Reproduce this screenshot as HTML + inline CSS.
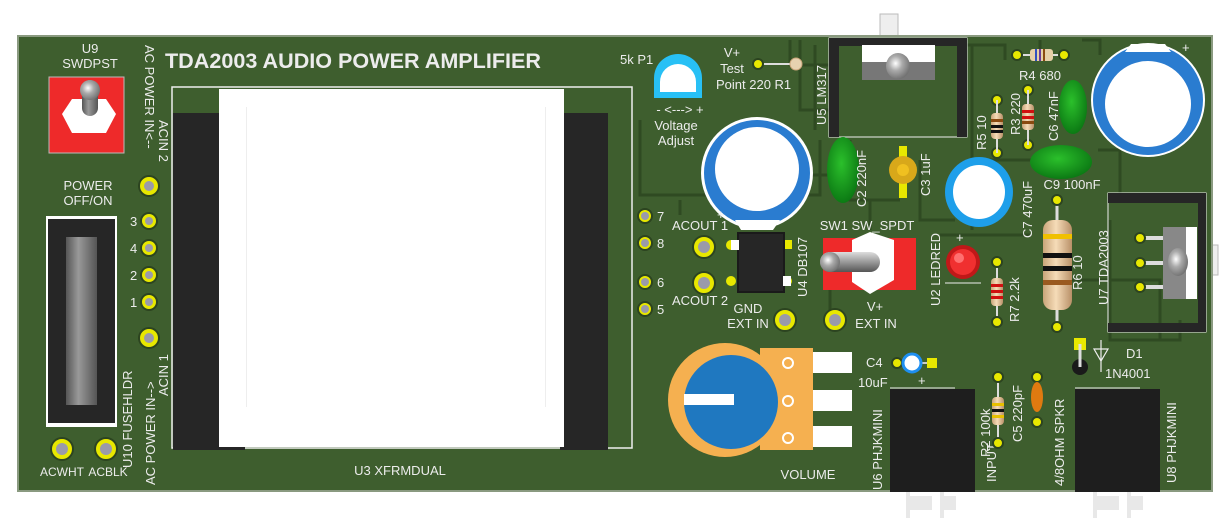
<!DOCTYPE html>
<html><head><meta charset="utf-8"><style>
html,body{margin:0;padding:0;background:#fff;width:1225px;height:525px;overflow:hidden}
svg{display:block}
text{font-family:"Liberation Sans",sans-serif;fill:#ececec;font-size:13px}
</style></head><body>
<svg width="1225" height="525" viewBox="0 0 1225 525">
<defs>
<radialGradient id="gy" cx="0.4" cy="0.4" r="0.7"><stop offset="0" stop-color="#fff"/><stop offset="0.4" stop-color="#aaa"/><stop offset="1" stop-color="#666"/></radialGradient>
<linearGradient id="tg" x1="0" x2="0" y1="0" y2="1"><stop offset="0" stop-color="#ddd"/><stop offset="0.5" stop-color="#999"/><stop offset="1" stop-color="#555"/></linearGradient>
<linearGradient id="cyl" x1="0" x2="1"><stop offset="0" stop-color="#555"/><stop offset="0.4" stop-color="#999"/><stop offset="1" stop-color="#555"/></linearGradient>
<linearGradient id="rb" x1="0" x2="1"><stop offset="0" stop-color="#c9a57a"/><stop offset="0.45" stop-color="#f6dcb8"/><stop offset="1" stop-color="#b89068"/></linearGradient>
<radialGradient id="gr" cx="0.45" cy="0.4" r="0.6"><stop offset="0" stop-color="#2bc02b"/><stop offset="1" stop-color="#0c7a14"/></radialGradient>
</defs>
<rect x="880" y="14" width="18" height="24" fill="#eee" stroke="#bbb"/>
<rect x="1200" y="245" width="18" height="30" fill="#eee" stroke="#bbb"/>
<rect x="18" y="36" width="1194" height="455" fill="#3e5e2e" stroke="#8a9a80" stroke-width="2"/>
<g stroke="#2f4a22" stroke-width="3" fill="none">
<path d="M790 40 V65 H830 M800 40 V110 H830 M815 45 V130 M960 45 H1005 V60 M972 45 V230 M975 160 H1050 M1040 40 V60 M1082 40 H1100 V55 M1098 150 H1120 V195 M1110 220 V340 H1180 V320 M640 120 V195 H820 V140 M850 140 V200 H900 M920 160 V220 H955 M990 180 V215 M940 235 H1030 M1070 280 H1160 V340 M680 200 V215 M830 290 V320 M870 200 V230 M835 175 H790 V200"/>
</g>
<text x="165" y="68" style="font-size:21px;font-weight:bold" textLength="376" lengthAdjust="spacingAndGlyphs">TDA2003 AUDIO POWER AMPLIFIER</text>
<text x="90" y="53" text-anchor="middle">U9</text>
<text x="90" y="68" text-anchor="middle">SWDPST</text>
<rect x="49" y="77" width="75" height="76" fill="#ee2a2a" stroke="#bbb"/>
<polygon points="72,99 106,99 116,114 106,133 72,133 62,114" fill="#fff"/>
<rect x="82" y="80" width="16" height="36" rx="8" fill="url(#cyl)"/>
<circle cx="90" cy="90" r="10" fill="url(#gy)"/>
<text x="88" y="190" text-anchor="middle">POWER</text>
<text x="88" y="205" text-anchor="middle">OFF/ON</text>
<rect x="46" y="216" width="71" height="211" fill="#fff"/>
<rect x="48" y="219" width="67" height="204" fill="#262626"/>
<rect x="66" y="237" width="31" height="168" fill="url(#cyl)"/>
<text transform="translate(132,468) rotate(-90)">U10 FUSEHLDR</text>
<g fill="#e8e800" stroke="#2c4420" stroke-width="2">
<circle cx="149" cy="186" r="10"/><circle cx="149" cy="338" r="10"/>
<circle cx="149" cy="221" r="8"/><circle cx="149" cy="248" r="8"/><circle cx="149" cy="275" r="8"/><circle cx="149" cy="302" r="8"/>
<circle cx="62" cy="449" r="11"/><circle cx="106" cy="449" r="11"/>
</g>
<g fill="#9a9aaa">
<circle cx="149" cy="186" r="5"/><circle cx="149" cy="338" r="5"/>
<circle cx="149" cy="221" r="4"/><circle cx="149" cy="248" r="4"/><circle cx="149" cy="275" r="4"/><circle cx="149" cy="302" r="4"/>
<circle cx="62" cy="449" r="6"/><circle cx="106" cy="449" r="6"/>
</g>
<text x="130" y="226">3</text><text x="130" y="253">4</text><text x="130" y="280">2</text><text x="130" y="307">1</text>
<text x="62" y="476" text-anchor="middle" style="font-size:12px">ACWHT</text><text x="108" y="476" text-anchor="middle" style="font-size:12px">ACBLK</text>
<text transform="translate(145,45) rotate(90)">AC POWER IN&lt;--</text>
<text transform="translate(159,120) rotate(90)">ACIN 2</text>
<text transform="translate(155,485) rotate(-90)">AC POWER IN--&gt;</text>
<text transform="translate(168,396) rotate(-90)">ACIN 1</text>
<rect x="172" y="87" width="460" height="361" fill="none" stroke="#eee" stroke-width="1.5"/>
<rect x="173" y="113" width="72" height="337" fill="#262626"/>
<rect x="560" y="113" width="48" height="337" fill="#262626"/>
<rect x="219" y="89" width="345" height="358" fill="#fff"/>
<rect x="246" y="107" width="1" height="300" fill="#eee"/>
<rect x="545" y="107" width="1" height="300" fill="#eee"/>
<text x="400" y="475" text-anchor="middle">U3  XFRMDUAL</text>
<text x="620" y="64">5k P1</text>
<path d="M654 98 V78 A24 24 0 0 1 702 78 V98 Z" fill="#28c0f5"/>
<path d="M660 82 A18 18 0 0 1 696 82 V92 H660 Z" fill="#fff"/>
<text x="680" y="114" text-anchor="middle">- &lt;---&gt; +</text>
<text x="676" y="130" text-anchor="middle">Voltage</text>
<text x="676" y="145" text-anchor="middle">Adjust</text>
<line x1="758" y1="64" x2="795" y2="64" stroke="#ddd" stroke-width="2"/>
<circle cx="758" cy="64" r="5" fill="#e8e800" stroke="#2c4420" stroke-width="2"/>
<circle cx="796" cy="64" r="6" fill="#e6d2b0" stroke="#c9a57a"/>
<text x="732" y="57" text-anchor="middle">V+</text>
<text x="732" y="73" text-anchor="middle">Test</text>
<text x="716" y="89">Point 220  R1</text>
<ellipse cx="757" cy="173" rx="56" ry="56" fill="#fff"/>
<ellipse cx="757" cy="173" rx="53" ry="53" fill="#2a7cd0"/>
<path d="M735 220 L741 230 H773 L780 220 Z" fill="#fff"/>
<circle cx="757" cy="169" r="42" fill="#fff"/>
<text x="717" y="219">+</text>
<rect x="829" y="38" width="138" height="99" fill="none" stroke="#eee"/>
<rect x="829" y="38" width="138" height="8" fill="#262626"/>
<rect x="829" y="38" width="10" height="99" fill="#262626"/>
<rect x="957" y="38" width="10" height="99" fill="#262626"/>
<rect x="862" y="45" width="73" height="35" fill="#777"/>
<rect x="862" y="45" width="73" height="17" fill="#fff"/>
<ellipse cx="898" cy="66" rx="12" ry="13" fill="url(#gy)"/>
<text transform="translate(826,125) rotate(-90)">U5 LM317</text>
<ellipse cx="843" cy="170" rx="16" ry="33" fill="url(#gr)"/>
<text transform="translate(866,207) rotate(-90)">C2 220nF</text>
<rect x="899" y="146" width="8" height="52" fill="#e8e800"/>
<circle cx="903" cy="170" r="14" fill="#d8a81a"/><circle cx="903" cy="170" r="6" fill="#f0c020"/>
<text transform="translate(930,196) rotate(-90)">C3 1uF</text>
<g><circle cx="997" cy="100" r="5" fill="#e8e800" stroke="#2c4420" stroke-width="2"/><circle cx="997" cy="153" r="5" fill="#e8e800" stroke="#2c4420" stroke-width="2"/>
<line x1="997" y1="100" x2="997" y2="153" stroke="#ddd" stroke-width="2"/>
<rect x="991" y="113" width="12" height="26" rx="4" fill="url(#rb)"/>
<rect x="991" y="119" width="12" height="3" fill="#8a4a10"/><rect x="991" y="125" width="12" height="3" fill="#111"/><rect x="991" y="130" width="12" height="3" fill="#111"/></g>
<text transform="translate(986,150) rotate(-90)">R5 10</text>
<g><circle cx="1028" cy="90" r="5" fill="#e8e800" stroke="#2c4420" stroke-width="2"/><circle cx="1028" cy="145" r="5" fill="#e8e800" stroke="#2c4420" stroke-width="2"/>
<line x1="1028" y1="90" x2="1028" y2="145" stroke="#ddd" stroke-width="2"/>
<rect x="1022" y="104" width="12" height="26" rx="4" fill="url(#rb)"/>
<rect x="1022" y="110" width="12" height="3" fill="#d01010"/><rect x="1022" y="116" width="12" height="3" fill="#d01010"/><rect x="1022" y="121" width="12" height="3" fill="#8a4a10"/></g>
<text transform="translate(1020,135) rotate(-90)">R3 220</text>
<ellipse cx="1073" cy="107" rx="14" ry="27" fill="url(#gr)"/>
<text transform="translate(1058,141) rotate(-90)">C6 47nF</text>
<line x1="1017" y1="55" x2="1064" y2="55" stroke="#ddd" stroke-width="2"/>
<circle cx="1017" cy="55" r="5" fill="#e8e800" stroke="#2c4420" stroke-width="2"/><circle cx="1064" cy="55" r="5" fill="#e8e800" stroke="#2c4420" stroke-width="2"/>
<rect x="1030" y="49" width="23" height="12" rx="3" fill="#e6cfa8"/>
<rect x="1035" y="49" width="2" height="12" fill="#3050c0"/><rect x="1039" y="49" width="2" height="12" fill="#6a3a9a"/><rect x="1043" y="49" width="2" height="12" fill="#8a4a10"/>
<text x="1040" y="80" text-anchor="middle">R4 680</text>
<circle cx="1148" cy="100" r="57" fill="#fff"/>
<circle cx="1148" cy="100" r="55" fill="#2a7cd0"/>
<path d="M1125 52 L1131 44 H1165 L1171 52 Z" fill="#fff"/>
<circle cx="1148" cy="104" r="43" fill="#fff"/>
<text x="1182" y="52">+</text>
<ellipse cx="1061" cy="162" rx="31" ry="17" fill="url(#gr)"/>
<text x="1072" y="189" text-anchor="middle">C9 100nF</text>
<ellipse cx="979" cy="192" rx="34" ry="35" fill="#1e9fea"/>
<ellipse cx="979" cy="192" rx="26" ry="27" fill="#fff"/>
<text transform="translate(1032,238) rotate(-90)">C7 470uF</text>
<line x1="1057" y1="200" x2="1057" y2="327" stroke="#ddd" stroke-width="3"/>
<circle cx="1057" cy="200" r="5" fill="#e8e800" stroke="#2c4420" stroke-width="2"/><circle cx="1057" cy="327" r="5" fill="#e8e800" stroke="#2c4420" stroke-width="2"/>
<rect x="1043" y="220" width="29" height="90" rx="10" fill="url(#rb)"/>
<rect x="1043" y="234" width="29" height="5" fill="#f0c000"/><rect x="1043" y="253" width="29" height="5" fill="#111"/><rect x="1043" y="266" width="29" height="5" fill="#111"/><rect x="1043" y="280" width="29" height="5" fill="#9a5a20"/>
<text transform="translate(1082,290) rotate(-90)">R6 10</text>
<rect x="1108" y="193" width="98" height="139" fill="none" stroke="#eee"/>
<rect x="1108" y="193" width="98" height="10" fill="#262626"/>
<rect x="1108" y="323" width="98" height="9" fill="#262626"/>
<rect x="1198" y="193" width="8" height="139" fill="#262626"/>
<g stroke="#ddd" stroke-width="4"><line x1="1140" y1="238" x2="1165" y2="238"/><line x1="1140" y1="263" x2="1165" y2="263"/><line x1="1140" y1="287" x2="1165" y2="287"/></g>
<rect x="1163" y="227" width="34" height="72" fill="#888"/>
<rect x="1186" y="227" width="11" height="72" fill="#fff"/>
<ellipse cx="1178" cy="262" rx="10" ry="14" fill="url(#gy)"/>
<g fill="#e8e800" stroke="#2c4420" stroke-width="2"><circle cx="1140" cy="238" r="5"/><circle cx="1140" cy="263" r="5"/><circle cx="1140" cy="287" r="5"/></g>
<text transform="translate(1108,305) rotate(-90)">U7 TDA2003</text>
<rect x="1074" y="338" width="12" height="12" fill="#e8e800"/>
<circle cx="1080" cy="367" r="8" fill="#1a1a1a"/>
<line x1="1080" y1="344" x2="1080" y2="367" stroke="#ddd" stroke-width="3"/>
<g stroke="#eee" fill="none" stroke-width="1.2"><path d="M1101 340 V372 M1094 349 H1108 L1101 361 Z"/></g>
<text x="1126" y="358">D1</text>
<text x="1105" y="378">1N4001</text>
<line x1="890" y1="388" x2="955" y2="388" stroke="#eee"/>
<line x1="1075" y1="388" x2="1140" y2="388" stroke="#eee"/>
<rect x="890" y="389" width="85" height="103" fill="#1e1e1e"/>
<rect x="1075" y="389" width="85" height="103" fill="#1e1e1e"/>
<g fill="#e8e8e8"><rect x="906" y="492" width="4" height="26"/><rect x="910" y="496" width="22" height="14"/><rect x="940" y="492" width="4" height="26"/><rect x="944" y="496" width="12" height="14"/>
<rect x="1093" y="492" width="4" height="26"/><rect x="1097" y="496" width="22" height="14"/><rect x="1127" y="492" width="4" height="26"/><rect x="1131" y="496" width="12" height="14"/></g>
<text transform="translate(882,490) rotate(-90)">U6 PHJKMINI</text>
<text transform="translate(996,482) rotate(-90)">INPUT</text>
<text transform="translate(1064,486) rotate(-90)">4/8OHM SPKR</text>
<text transform="translate(1176,483) rotate(-90)">U8 PHJKMINI</text>
<line x1="998" y1="377" x2="998" y2="443" stroke="#ddd" stroke-width="2"/>
<circle cx="998" cy="377" r="5" fill="#e8e800" stroke="#2c4420" stroke-width="2"/><circle cx="998" cy="443" r="5" fill="#e8e800" stroke="#2c4420" stroke-width="2"/>
<rect x="992" y="397" width="12" height="28" rx="4" fill="url(#rb)"/>
<rect x="992" y="403" width="12" height="3" fill="#e8c000"/><rect x="992" y="409" width="12" height="3" fill="#111"/><rect x="992" y="415" width="12" height="3" fill="#e8c000"/>
<text transform="translate(990,457) rotate(-90)">R2 100k</text>
<circle cx="1037" cy="377" r="5" fill="#e8e800" stroke="#2c4420" stroke-width="2"/><circle cx="1037" cy="422" r="5" fill="#e8e800" stroke="#2c4420" stroke-width="2"/>
<ellipse cx="1037" cy="397" rx="6" ry="15" fill="#e07a10"/>
<text transform="translate(1022,442) rotate(-90)">C5 220pF</text>
<line x1="897" y1="363" x2="932" y2="363" stroke="#ccc" stroke-width="2"/>
<circle cx="897" cy="363" r="5" fill="#e8e800" stroke="#2c4420" stroke-width="2"/>
<rect x="927" y="358" width="10" height="10" fill="#e8e800"/>
<circle cx="912" cy="363" r="9" fill="#fff" stroke="#1e8ff0" stroke-width="3"/>
<text x="866" y="367">C4</text>
<text x="858" y="387">10uF</text>
<text x="918" y="385">+</text>
<circle cx="725" cy="400" r="57" fill="#f5b050"/>
<rect x="760" y="348" width="53" height="102" fill="#f5b050"/>
<circle cx="731" cy="402" r="47" fill="#1f78c0"/>
<rect x="684" y="394" width="50" height="11" fill="#fff"/>
<g fill="#fff"><rect x="813" y="352" width="39" height="21"/><rect x="813" y="390" width="39" height="21"/><rect x="813" y="426" width="39" height="21"/></g>
<g fill="none" stroke="#fff" stroke-width="2"><circle cx="788" cy="363" r="5"/><circle cx="788" cy="401" r="5"/><circle cx="788" cy="438" r="5"/></g>
<text x="808" y="479" text-anchor="middle">VOLUME</text>
<g fill="#e8e800" stroke="#2c4420" stroke-width="2"><circle cx="645" cy="216" r="7"/><circle cx="645" cy="243" r="7"/><circle cx="645" cy="282" r="7"/><circle cx="645" cy="309" r="7"/>
<circle cx="704" cy="247" r="11"/><circle cx="704" cy="283" r="11"/><circle cx="785" cy="320" r="11"/><circle cx="835" cy="320" r="11"/></g>
<g fill="#9a9aaa"><circle cx="645" cy="216" r="4"/><circle cx="645" cy="243" r="4"/><circle cx="645" cy="282" r="4"/><circle cx="645" cy="309" r="4"/>
<circle cx="704" cy="247" r="6"/><circle cx="704" cy="283" r="6"/><circle cx="785" cy="320" r="6"/><circle cx="835" cy="320" r="6"/></g>
<text x="657" y="221">7</text><text x="657" y="248">8</text><text x="657" y="287">6</text><text x="657" y="314">5</text>
<text x="672" y="230">ACOUT 1</text><text x="672" y="305">ACOUT 2</text>
<text x="748" y="313" text-anchor="middle">GND</text><text x="748" y="328" text-anchor="middle">EXT IN</text>
<text x="875" y="311" text-anchor="middle">V+</text><text x="876" y="328" text-anchor="middle">EXT IN</text>
<circle cx="731" cy="245" r="5" fill="#e8e800"/><circle cx="731" cy="281" r="5" fill="#e8e800"/><rect x="783" y="240" width="9" height="9" fill="#e8e800"/><circle cx="787" cy="281" r="5" fill="#e8e800"/>
<rect x="737" y="232" width="48" height="61" fill="#1a1a1a"/><rect x="739" y="234" width="44" height="57" fill="#262626"/>
<rect x="731" y="240" width="8" height="10" fill="#fff"/><rect x="783" y="276" width="8" height="10" fill="#fff"/>
<text transform="translate(807,297) rotate(-90)">U4 DB107</text>
<text x="867" y="230" text-anchor="middle">SW1 SW_SPDT</text>
<rect x="823" y="238" width="93" height="52" fill="#ee2a2a"/>
<polygon points="852,240 870,232 894,240 894,280 870,294 852,282" fill="#fff"/>
<rect x="820" y="252" width="60" height="20" rx="10" fill="url(#tg)"/>
<circle cx="830" cy="262" r="10" fill="url(#gy)"/>
<circle cx="963" cy="262" r="17" fill="#c01818"/><circle cx="963" cy="262" r="13" fill="#f03030"/><circle cx="959" cy="258" r="5" fill="#ff7070"/>
<text x="956" y="242">+</text>
<line x1="945" y1="283" x2="981" y2="283" stroke="#eee"/>
<text transform="translate(940,306) rotate(-90)">U2 LEDRED</text>
<line x1="997" y1="262" x2="997" y2="322" stroke="#ddd" stroke-width="2"/>
<circle cx="997" cy="262" r="5" fill="#e8e800" stroke="#2c4420" stroke-width="2"/><circle cx="997" cy="322" r="5" fill="#e8e800" stroke="#2c4420" stroke-width="2"/>
<rect x="991" y="278" width="12" height="28" rx="4" fill="url(#rb)"/>
<rect x="991" y="284" width="12" height="3" fill="#d01010"/><rect x="991" y="290" width="12" height="3" fill="#d01010"/><rect x="991" y="296" width="12" height="3" fill="#d01010"/>
<text transform="translate(1019,322) rotate(-90)">R7  2.2k</text>
</svg>
</body></html>
